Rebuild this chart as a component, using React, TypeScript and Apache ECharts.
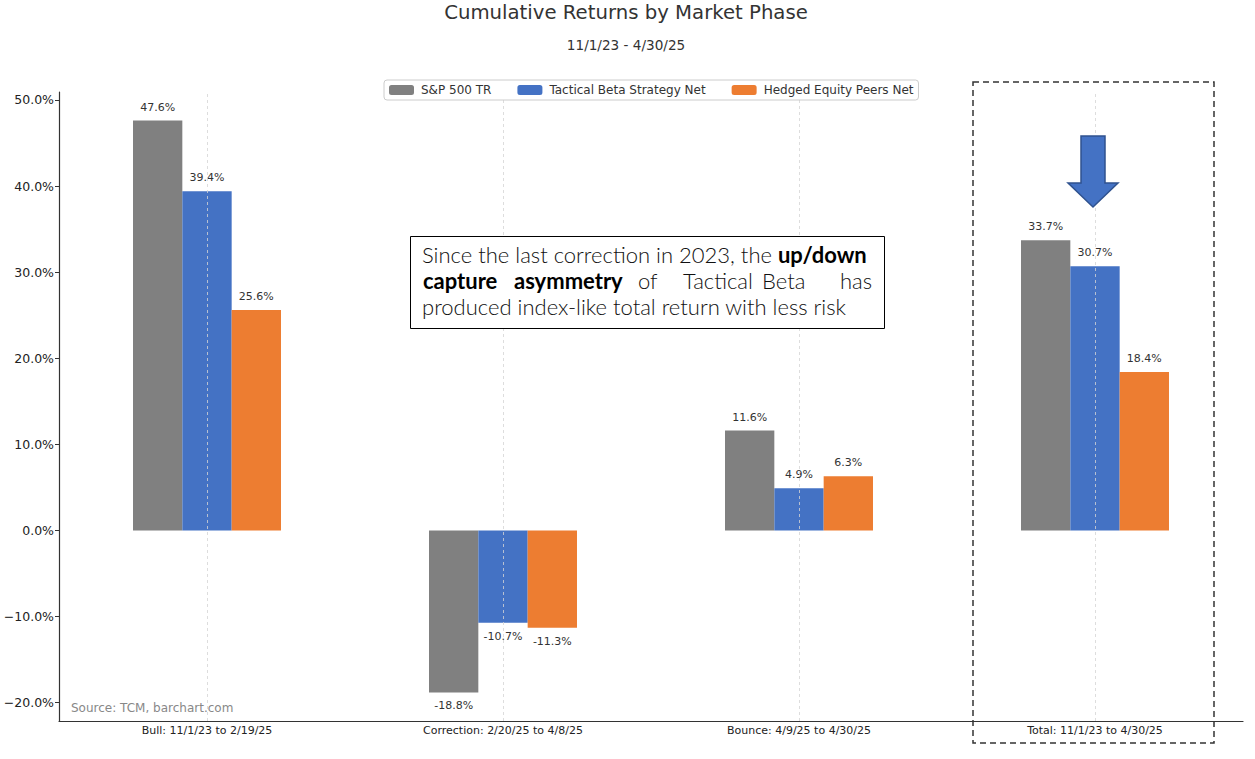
import React, { useEffect, useRef } from "react";
import * as echarts from "echarts";

const categories = [
  "Bull: 11/1/23 to 2/19/25",
  "Correction: 2/20/25 to 4/8/25",
  "Bounce: 4/9/25 to 4/30/25",
  "Total: 11/1/23 to 4/30/25",
];
const seriesNames = ["S&P 500 TR", "Tactical Beta Strategy Net", "Hedged Equity Peers Net"];
const sp500 = [47.6, -18.8, 11.6, 33.7];
const tactical = [39.4, -10.7, 4.9, 30.7];
const hedged = [25.6, -11.3, 6.3, 18.4];
const seriesColors = ["#808080", "#4472C4", "#ED7D31"];
const yTicks = [-20, -10, 0, 10, 20, 30, 40, 50];
const yMin = -22.12;
const yMax = 50.92;

const FONT = "'DejaVu Sans', sans-serif";
const HAND = "Lato, 'Noto Sans', sans-serif";
const HS = 22;

export default function App() {
  const ref = useRef<HTMLDivElement>(null);
  useEffect(() => {
    document.body.style.margin = "0";
    const chart = echarts.init(ref.current!, undefined, { renderer: "svg" });
    const allSeries = [sp500, tactical, hedged];
    const series: any[] = allSeries.map((vals, i) => ({
      name: seriesNames[i],
      type: "bar",
      barWidth: 49.33,
      barGap: "0%",
      itemStyle: { color: seriesColors[i] },
      data: vals.map((v) => ({
        value: v,
        label: { position: v < 0 ? "bottom" : "top" },
      })),
      label: {
        show: true,
        distance: 8,
        fontFamily: FONT,
        fontSize: 11,
        color: "#333",
        formatter: (p: any) => `${Number(p.value).toFixed(1)}%`,
      },
      ...(i === 1
        ? {
            markLine: {
              silent: true,
              z: 10,
              symbol: ["none", "none"],
              label: { show: false },
              lineStyle: { type: [3, 3], color: "#d4d4d4", width: 0.8 },
              data: categories.map((c) => ({ xAxis: c })),
            },
          }
        : {}),
    }));

    const line2Words = [
      { t: "capture", x: 423, b: true, a: "left" },
      { t: "asymmetry", x: 514, b: true, a: "left" },
      { t: "of", x: 638, b: false, a: "left" },
      { t: "Tactical", x: 683, b: false, a: "left" },
      { t: "Beta", x: 762, b: false, a: "left" },
      { t: "has", x: 872, b: false, a: "right" },
    ];

    chart.setOption({
      animation: false,
      textStyle: { fontFamily: FONT },
      grid: { left: 59, right: 12, top: 92, bottom: 38, containLabel: false },
      legend: {
        data: seriesNames,
        left: 384,
        top: 80,
        itemWidth: 25,
        itemHeight: 10,
        itemGap: 26,
        padding: [4, 5],
        backgroundColor: "#fff",
        borderColor: "#ccc",
        borderWidth: 1,
        borderRadius: 3,
        textStyle: { fontFamily: FONT, fontSize: 12, color: "#333", padding: [0, 0, 0, 2] },
        z: 20,
      },
      xAxis: {
        type: "category",
        data: categories,
        axisLine: { onZero: false, lineStyle: { color: "#333", width: 1.2 } },
        axisTick: { alignWithLabel: true, length: 4, lineStyle: { color: "#333" } },
        axisLabel: { fontFamily: FONT, fontSize: 11, color: "#222", margin: 4 },
        splitLine: { show: false },
      },
      yAxis: {
        type: "value",
        min: yMin,
        max: yMax,
        axisLine: { show: true, lineStyle: { color: "#333", width: 1.2 } },
        axisTick: { show: true, length: 4, lineStyle: { color: "#333" }, customValues: yTicks },
        axisLabel: {
          fontFamily: FONT,
          fontSize: 12.5,
          color: "#222",
          margin: 5,
          customValues: yTicks,
          formatter: (v: number) => `${v < 0 ? "\u2212" : ""}${Math.abs(v).toFixed(1)}%`,
        },
        splitLine: { show: false },
      },
      series,
      graphic: [
        {
          type: "text",
          x: 626,
          y: 12,
          style: {
            text: "Cumulative Returns by Market Phase",
            fontFamily: FONT,
            fontSize: 19.7,
            fill: "#333",
            align: "center",
            verticalAlign: "middle",
          },
        },
        {
          type: "text",
          x: 626,
          y: 45,
          style: {
            text: "11/1/23 - 4/30/25",
            fontFamily: FONT,
            fontSize: 13.6,
            fill: "#333",
            align: "center",
            verticalAlign: "middle",
          },
        },
        {
          type: "rect",
          z: 100,
          shape: { x: 410.5, y: 236.5, width: 474, height: 92 },
          style: { fill: "#fff", stroke: "#000", lineWidth: 1 },
        },
        {
          type: "text",
          z: 101,
          x: 422,
          y: 254,
          style: {
            text: "{n|Since the last correction in 2023, the }{b|up/down}",
            verticalAlign: "middle",
            rich: {
              n: { fontFamily: HAND, fontSize: HS, fontWeight: 300, fill: "#111" },
              b: { fontFamily: HAND, fontSize: HS, fontWeight: "bold", fill: "#000" },
            },
          },
        },
        ...line2Words.map((w) => ({
          type: "text",
          z: 101,
          x: w.x,
          y: 280,
          style: {
            text: w.t,
            fontFamily: HAND,
            fontSize: HS,
            fontWeight: w.b ? "bold" : 300,
            fill: w.b ? "#000" : "#111",
            align: w.a,
            verticalAlign: "middle",
          },
        })),
        {
          type: "text",
          z: 101,
          x: 422,
          y: 306,
          style: {
            text: "produced index-like total return with less risk",
            fontFamily: HAND,
            fontSize: HS,
            fontWeight: 300,
            fill: "#111",
            verticalAlign: "middle",
          },
        },
        {
          type: "polygon",
          z: 100,
          shape: {
            points: [
              [1081, 136],
              [1105, 136],
              [1105, 183],
              [1118, 183],
              [1093, 207],
              [1068, 183],
              [1081, 183],
            ],
          },
          style: { fill: "#4472C4", stroke: "#2F528F", lineWidth: 1.5 },
        },
        {
          type: "rect",
          z: 100,
          shape: { x: 973, y: 82, width: 241, height: 661 },
          style: { fill: "none", stroke: "#333", lineWidth: 1.5, lineDash: [6, 4] },
        },
        {
          type: "text",
          z: 100,
          x: 71,
          y: 708,
          style: {
            text: "Source: TCM, barchart.com",
            fontFamily: FONT,
            fontSize: 12,
            fill: "#888",
            verticalAlign: "middle",
          },
        },
      ],
    });
    return () => chart.dispose();
  }, []);
  return <div ref={ref} style={{ width: 1255, height: 759 }} />;
}
